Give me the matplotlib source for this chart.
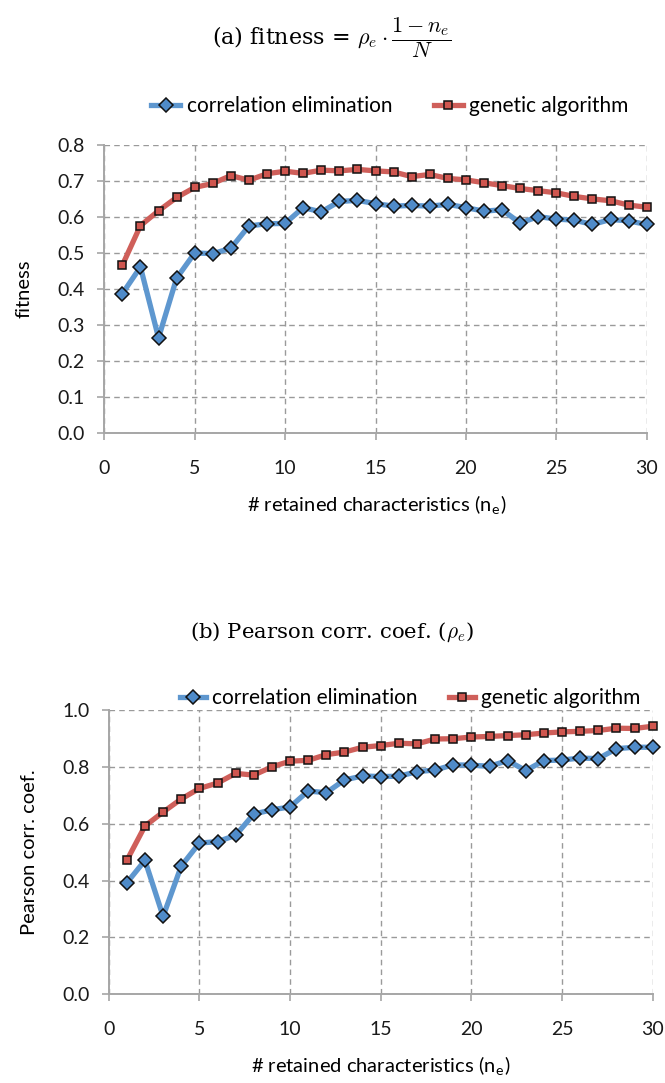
import matplotlib
matplotlib.use("Agg")
import matplotlib.pyplot as plt
from matplotlib.ticker import FormatStrFormatter

# ---------------- data ----------------
n_e = list(range(1, 31))

fitness_corr = [0.388, 0.462, 0.265, 0.431, 0.501, 0.499, 0.514, 0.576, 0.582, 0.583,
                0.627, 0.615, 0.644, 0.647, 0.638, 0.631, 0.633, 0.631, 0.636, 0.627,
                0.617, 0.621, 0.584, 0.602, 0.595, 0.592, 0.580, 0.594, 0.590, 0.580]
fitness_ga = [0.467, 0.577, 0.618, 0.655, 0.683, 0.694, 0.716, 0.703, 0.721, 0.728,
              0.722, 0.731, 0.729, 0.733, 0.729, 0.726, 0.713, 0.719, 0.708, 0.704,
              0.696, 0.688, 0.680, 0.674, 0.668, 0.658, 0.651, 0.646, 0.634, 0.628]

pearson_corr = [0.392, 0.471, 0.274, 0.451, 0.532, 0.537, 0.559, 0.634, 0.649, 0.659,
                0.715, 0.709, 0.754, 0.768, 0.766, 0.767, 0.783, 0.789, 0.807, 0.806,
                0.802, 0.822, 0.787, 0.822, 0.824, 0.831, 0.829, 0.864, 0.869, 0.869]
pearson_ga = [0.471, 0.592, 0.641, 0.687, 0.724, 0.743, 0.777, 0.771, 0.800, 0.820,
              0.823, 0.843, 0.852, 0.869, 0.875, 0.883, 0.881, 0.898, 0.899, 0.905,
              0.907, 0.910, 0.913, 0.919, 0.923, 0.925, 0.928, 0.936, 0.935, 0.943]

series_names = ["correlation elimination", "genetic algorithm"]
x_ticks = [0, 5, 10, 15, 20, 25, 30]
y_ticks_top = [0.0, 0.1, 0.2, 0.3, 0.4, 0.5, 0.6, 0.7, 0.8]
y_ticks_bot = [0.0, 0.2, 0.4, 0.6, 0.8, 1.0]

title_a = r"(a) fitness = $\rho_e \cdot \dfrac{1 - n_e}{N}$"
title_b = r"(b) Pearson corr. coef. ($\rho_e$)"
xlabel = r"# retained characteristics (n$_\mathregular{e}$)"
ylabel_top = "fitness"
ylabel_bot = "Pearson corr. coef."

# ---------------- style ----------------
W, H = 665, 1083
plt.rcParams["font.family"] = ["Lato", "DejaVu Sans"]
plt.rcParams["mathtext.fontset"] = "cm"

BLUE_LINE = "#5E97CF"
BLUE_MARK = "#4F8BC9"
RED_LINE = "#CF5F5A"
RED_MARK = "#D0564F"
GRID = "#9A9A9A"
AXIS = "#A6A6A6"
FS_TICK = 14
FS_LAB = 14.5
FS_LEG = 15

fig = plt.figure(figsize=(W / 100, H / 100), dpi=100)


def px_axes(left, right, top, bottom):
    return fig.add_axes([left / W, 1 - bottom / H, (right - left) / W, (bottom - top) / H])


def style_axes(ax, yticks, ymax):
    ax.set_xlim(0, 30)
    ax.set_ylim(0, ymax)
    ax.set_xticks(x_ticks)
    ax.set_yticks(yticks)
    ax.yaxis.set_major_formatter(FormatStrFormatter("%.1f"))
    ax.grid(True, color=GRID, linestyle=(0, (4, 3)), linewidth=1.0)
    ax.set_axisbelow(True)
    for s in ("top", "right"):
        ax.spines[s].set_visible(False)
    for s in ("left", "bottom"):
        ax.spines[s].set_color(AXIS)
        ax.spines[s].set_linewidth(1.4)
    ax.tick_params(axis="both", direction="out", length=5, width=1.2, color=AXIS,
                   labelsize=FS_TICK, labelcolor="#1a1a1a")
    ax.tick_params(axis="y", pad=9)
    ax.tick_params(axis="x", pad=14)


def draw(ax, yc, yg):
    l1, = ax.plot(n_e, yc, color=BLUE_LINE, lw=3.8, marker="D", markersize=6.8,
                  markerfacecolor=BLUE_MARK, markeredgecolor="#111111", markeredgewidth=1.1,
                  label=series_names[0], clip_on=False, zorder=3)
    l2, = ax.plot(n_e, yg, color=RED_LINE, lw=3.8, marker="s", markersize=5.9,
                  markerfacecolor=RED_MARK, markeredgecolor="#111111", markeredgewidth=1.1,
                  label=series_names[1], clip_on=False, zorder=4)
    return [l1, l2]


# top chart
ax1 = px_axes(104.3, 646.7, 145.3, 433.3)
style_axes(ax1, y_ticks_top, 0.8)
h1 = draw(ax1, fitness_corr, fitness_ga)

# bottom chart
ax2 = px_axes(108.7, 652.7, 710, 994.3)
style_axes(ax2, y_ticks_bot, 1.0)
h2 = draw(ax2, pearson_corr, pearson_ga)

# titles
fig.text(332 / W, 1 - 38 / H, title_a, ha="center", va="center", fontsize=16,
         family="DejaVu Serif")
fig.text(332 / W, 1 - 632 / H, title_b, ha="center", va="center", fontsize=15.3,
         family="DejaVu Serif")

# axis labels
fig.text(377 / W, 1 - 505 / H, xlabel, ha="center", va="center", fontsize=FS_LAB)
fig.text(381 / W, 1 - 1066 / H, xlabel, ha="center", va="center", fontsize=FS_LAB)
fig.text(24 / W, 1 - 289 / H, ylabel_top, ha="center", va="center", rotation=90, fontsize=FS_LAB)
fig.text(30 / W, 1 - 852 / H, ylabel_bot, ha="center", va="center", rotation=90, fontsize=FS_LAB)

# legends
for handles, cx, cy, cs, hl in ((h1, 390, 106, 2.0, 1.4), (h2, 410, 698, 1.5, 1.25)):
    fig.legend(handles=handles, loc="center", bbox_to_anchor=(cx / W, 1 - cy / H),
               ncol=2, frameon=False, fontsize=FS_LEG, handlelength=hl, handletextpad=0.3,
               columnspacing=cs, borderpad=0, borderaxespad=0)

fig.savefig("out.png", dpi=100)
